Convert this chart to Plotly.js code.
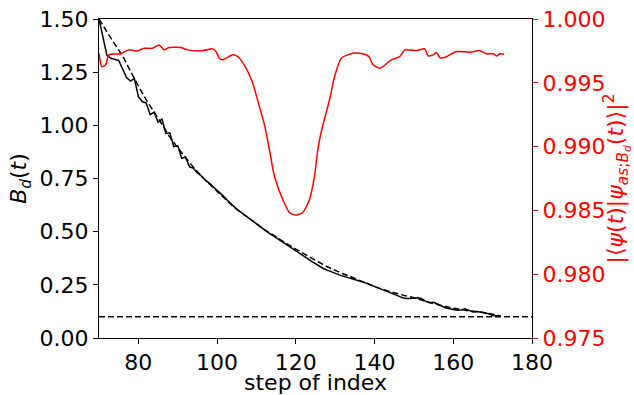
<!DOCTYPE html>
<html>
<head>
<meta charset="utf-8">
<script src="https://cdn.plot.ly/plotly-3.0.1.min.js"></script>
<style>html,body{margin:0;padding:0;background:#fff;}#chart{width:634px;height:395px;}</style>
</head>
<body>
<div id="chart"></div>
<script>
// Solid black B_d(t), integer steps 70..172
const solidSteps = [];
for (let s = 70; s <= 172; s++) solidSteps.push(s);
const solidValues = [
1.500,1.420,1.330,1.315,1.310,1.305,1.265,1.225,1.208,1.220,
1.135,1.112,1.105,1.050,1.062,1.015,1.030,0.962,0.965,0.900,
0.905,0.845,0.850,0.805,0.798,0.776,0.762,0.742,0.728,0.712,
0.694,0.676,0.660,0.641,0.622,0.606,0.592,0.578,0.563,0.550,
0.536,0.522,0.509,0.496,0.484,0.472,0.460,0.448,0.436,0.424,
0.412,0.400,0.387,0.373,0.360,0.348,0.337,0.327,0.319,0.311,
0.304,0.297,0.291,0.286,0.281,0.275,0.268,0.263,0.257,0.250,
0.243,0.236,0.229,0.222,0.215,0.206,0.198,0.190,0.186,0.186,
0.188,0.189,0.185,0.172,0.166,0.168,0.160,0.150,0.142,0.137,
0.132,0.130,0.132,0.137,0.130,0.122,0.124,0.120,0.118,0.114,
0.106,0.104,0.104
];

// Dashed smooth reference curve
const dashSteps = [];
for (let s = 70; s <= 172; s += 2) dashSteps.push(s);
const dashValues = [
1.500,1.440,1.382,1.325,1.255,1.185,1.120,1.062,1.005,0.945,
0.895,0.848,0.803,0.762,0.725,0.690,0.655,0.620,0.592,0.565,
0.537,0.510,0.487,0.463,0.440,0.418,0.397,0.376,0.355,0.335,
0.318,0.302,0.288,0.272,0.258,0.242,0.229,0.218,0.208,0.198,
0.189,0.178,0.167,0.157,0.148,0.140,0.134,0.128,0.124,0.119,
0.112,0.104
];

// Horizontal threshold
const thresholdSteps = [70, 180];
const thresholdValue = 0.1;

// Red fidelity curve (right axis)
const redSteps = [
70.0,70.7,71.7,72.5,75.5,77.6,79.75,81.46,83.57,85.28,86.55,87.83,90.8,92.49,96.3,98.85,99.72,100.56,101.4,103.94,
105.22,107.36,109.04,110.74,112.02,113.29,114.56,116.68,118.38,119.91,121.77,123.47,124.75,125.59,126.7,128.57,129.85,131.55,134.5,137.05,
138.58,139.6,141.3,142.14,144.28,146.39,147.67,150.65,152.76,153.6,154.87,155.74,156.58,157.85,160.83,164.22,166.77,168.47,170.15,171.02,
171.86,172.88
];
const redValues = [
0.99732,0.99627,0.99641,0.99719,0.99727,0.99758,0.99750,0.99771,0.99770,0.99797,0.99758,0.99776,0.99776,0.99758,0.99752,0.99766,0.99745,0.99693,0.99680,0.99719,
0.99706,0.99615,0.99498,0.99315,0.99172,0.98977,0.98768,0.98586,0.98484,0.98463,0.98484,0.98586,0.98768,0.98977,0.99148,0.99367,0.99549,0.99693,0.99732,0.99727,
0.99705,0.99641,0.99615,0.99627,0.99680,0.99705,0.99758,0.99752,0.99766,0.99711,0.99719,0.99737,0.99698,0.99698,0.99745,0.99740,0.99752,0.99727,0.99727,0.99711,
0.99727,0.99724
];

const xTicks = [80, 100, 120, 140, 160, 180];
const yLeftTicks = [0, 0.25, 0.5, 0.75, 1.0, 1.25, 1.5];
const yRightTicks = [0.975, 0.980, 0.985, 0.990, 0.995, 1.000];

const FONT = 'DejaVu Sans, sans-serif';

const traces = [
  {x: thresholdSteps, y: thresholdSteps.map(() => thresholdValue), mode: 'lines',
   line: {color: 'black', width: 1.5, dash: '6px,3px'}, xaxis: 'x', yaxis: 'y', hoverinfo: 'skip'},
  {x: dashSteps, y: dashValues, mode: 'lines', line: {color: 'black', width: 1.5, dash: '6px,3px', shape: 'spline'},
   xaxis: 'x', yaxis: 'y'},
  {x: solidSteps, y: solidValues, mode: 'lines', line: {color: 'black', width: 1.5}, xaxis: 'x', yaxis: 'y'},
  {x: redSteps, y: redValues, mode: 'lines', line: {color: 'red', width: 1.5, shape: 'spline', smoothing: 0.6},
   xaxis: 'x', yaxis: 'y2'}
];

const layout = {
  width: 634, height: 395,
  margin: {l: 99, r: 102, t: 19, b: 57},
  paper_bgcolor: 'white', plot_bgcolor: 'white',
  showlegend: false,
  font: {family: FONT, size: 22, color: 'black'},
  xaxis: {
    range: [70, 180], tickvals: xTicks, ticktext: xTicks.map(String),
    showgrid: false, zeroline: false, showline: true, linecolor: 'black', linewidth: 1,
    mirror: true, ticks: 'outside', ticklen: 5, tickcolor: 'black',
    tickfont: {family: FONT, size: 22, color: 'black'},
    title: {text: 'step of index', font: {family: FONT, size: 22, color: 'black'}, standoff: 2}
  },
  yaxis: {
    range: [0, 1.5], tickvals: yLeftTicks, ticktext: yLeftTicks.map(v => v.toFixed(2)),
    showgrid: false, zeroline: false, showline: true, linecolor: 'black', linewidth: 1,
    ticks: 'outside', ticklen: 5, tickcolor: 'black',
    tickfont: {family: FONT, size: 22, color: 'black'},
    title: {text: '<i>B</i><sub><i>d</i></sub>(<i>t</i>)', font: {family: FONT, size: 22, color: 'black'}, standoff: 6}
  },
  yaxis2: {
    range: [0.975, 1.0], tickvals: yRightTicks, ticktext: yRightTicks.map(v => v.toFixed(3)),
    overlaying: 'y', side: 'right',
    showgrid: false, zeroline: false, showline: true, linecolor: 'black', linewidth: 1,
    ticks: 'outside', ticklen: 5, tickcolor: 'red',
    tickfont: {family: FONT, size: 22, color: 'red'},
    title: {text: '|⟨<i>ψ</i>(<i>t</i>)|<i>ψ</i><sub><i>as</i>;<i>B<sub>d</sub></i></sub>(<i>t</i>)⟩|<sup>2</sup>',
            font: {family: FONT, size: 22, color: 'red'}, standoff: 6}
  }
};

Plotly.newPlot('chart', traces, layout, {staticPlot: true, displayModeBar: false});
</script>
</body>
</html>
